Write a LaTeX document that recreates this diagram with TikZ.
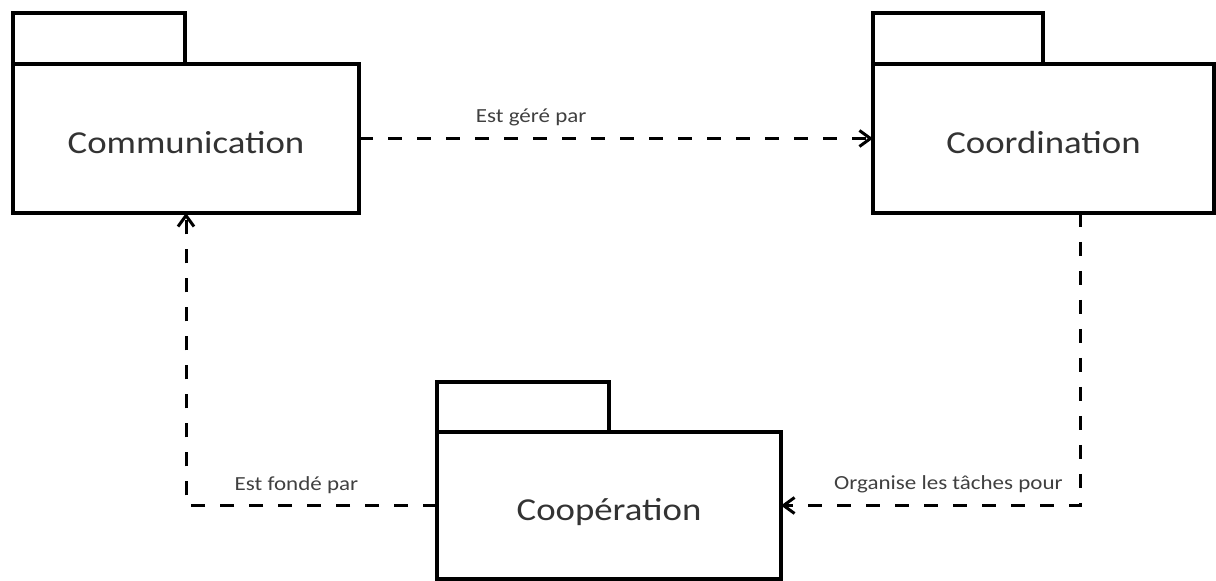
\documentclass[tikz,border=0pt]{standalone}
\usepackage{fontspec}
\setmainfont{Carlito}[FakeStretch=1.15]
\usetikzlibrary{arrows.meta}

\begin{document}
\begin{tikzpicture}[x=0.5pt, y=-0.5pt, line join=miter, >={Straight Barb[length=5.5pt,width=8pt]}]
	\tikzset{pkg/.style={draw, line width=2pt, fill=white, inner sep=0pt, outer sep=0pt, text height=17pt, text depth=2pt, font=\fontsize{16}{19}\selectfont, text=black!80},
		dep/.style={->, line width=1.5pt, dash pattern=on 7pt off 7.5pt},
		deplabel/.style={font=\fontsize{10}{12}\selectfont, text=black!75, above=2pt}}
	\useasboundingbox (0,0) rectangle (1216,581);
	%Các gói
	\node[pkg, minimum width=173pt, minimum height=74.5pt] (comm) at (186,138.5) {Communication};
	\node[pkg, minimum width=170.5pt, minimum height=74.5pt] (coord) at (1043.5,138.5) {Coordination};
	\node[pkg, minimum width=172pt, minimum height=73.5pt] (coop) at (609,505.5) {Coopération};
	%Các tab
	\draw[line width=2pt] (comm.north west) rectangle ++(172,-51);
	\draw[line width=2pt] (coord.north west) rectangle ++(170,-51);
	\draw[line width=2pt] (coop.north west) rectangle ++(172,-50);
	%Các phụ thuộc
	\draw[dep] (comm.east) -- node[deplabel, pos=0.335] {Est géré par} (coord.west);
	\draw[dep] ([xshift=18.25pt]coord.south) |- node[deplabel, pos=0.72] {Organise les tâches pour} (coop.east);
	\draw[dep] (coop.west) -| node[deplabel, pos=0.28] {Est fondé par} (comm.south);
\end{tikzpicture}
\end{document}
